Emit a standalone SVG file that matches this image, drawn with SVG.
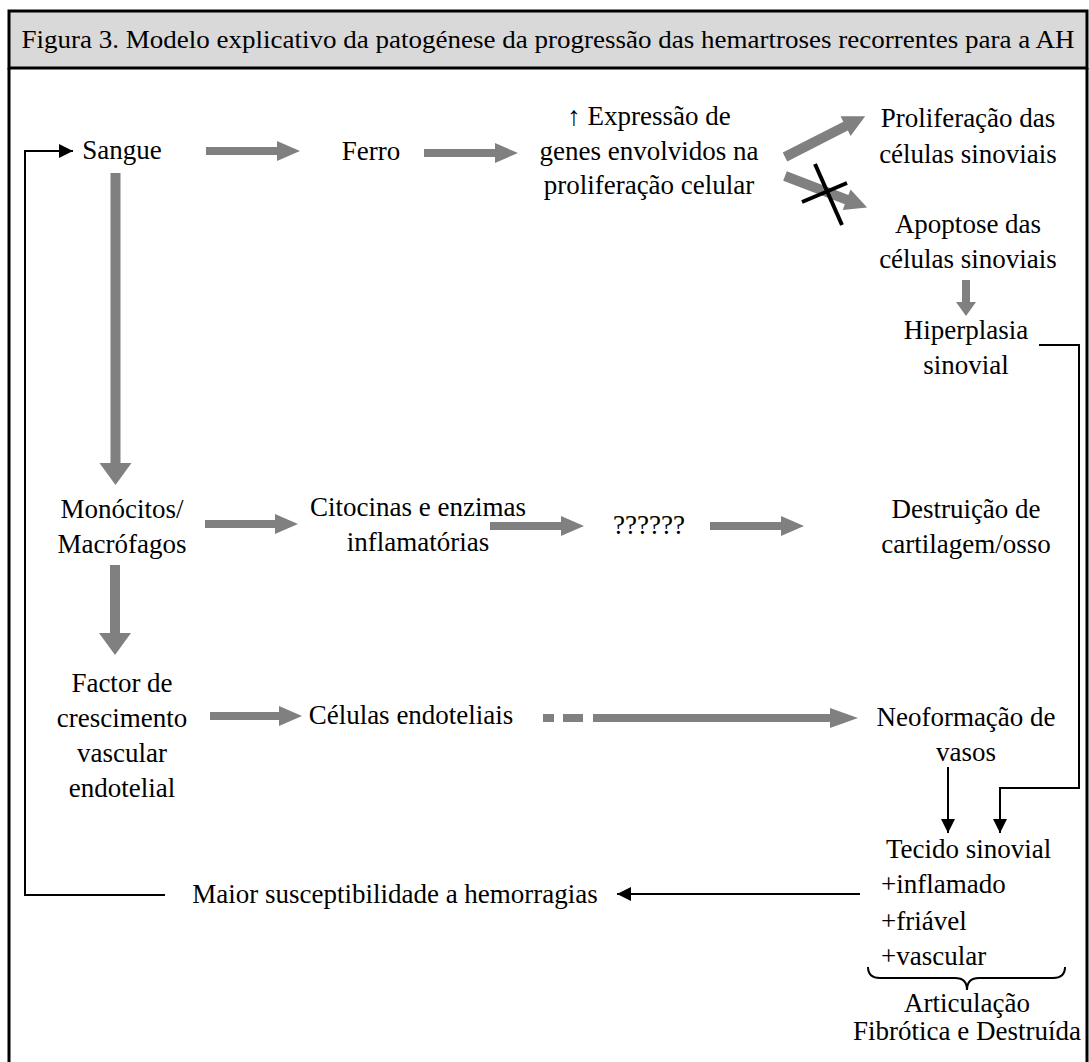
<svg xmlns="http://www.w3.org/2000/svg" width="1089" height="1062" viewBox="0 0 1089 1062">
<defs>
<style>
.t{font-family:'Liberation Serif','Times New Roman',serif;font-size:27px;fill:#000;}
.c{text-anchor:middle;}
.g{fill:#808080;stroke:none;}
.k{fill:none;stroke:#000;stroke-width:2;}
</style>
<marker id="ah" viewBox="0 0 10 10" markerWidth="15" markerHeight="14" markerUnits="userSpaceOnUse" refX="10" refY="5" orient="auto">
<path d="M0,0 L10,5 L0,10 Z" fill="#000"/>
</marker>
</defs>
<rect x="0" y="0" width="1089" height="1062" fill="#fff"/>
<g id="frame">
<rect x="9" y="11" width="1078" height="57" fill="#d9d9d9" stroke="#000" stroke-width="3"/>
<line x1="9" y1="68" x2="9" y2="1062" stroke="#000" stroke-width="3"/>
<line x1="1087" y1="68" x2="1087" y2="1062" stroke="#000" stroke-width="3"/>
<text x="548" y="48" class="t c" style="font-size:25px" textLength="1053" lengthAdjust="spacingAndGlyphs">Figura 3. Modelo explicativo da patogénese da progressão das hemartroses recorrentes para a AH</text>
</g>
<g id="connectors">
<polygon class="g" points="206,147 277,147 277,141 300,151 277,161 277,155 206,155"/>
<polygon class="g" points="424,149 495,149 495,143 518,153 495,163 495,157 424,157"/>
<polygon class="g" transform="translate(785,157) rotate(-27)" points="0,-5 68,-5 68,-11 90,0 68,11 68,5 0,5"/>
<polygon class="g" transform="translate(785,176) rotate(21)" points="0,-5 66,-5 66,-11 88,0 66,11 66,5 0,5"/>
<line x1="815" y1="164" x2="842" y2="225" stroke="#000" stroke-width="4"/>
<line x1="802" y1="202" x2="847" y2="183" stroke="#000" stroke-width="4"/>
<polygon class="g" points="962,280 970,280 970,302 976,302 966,316 956,302 962,302"/>
<polygon class="g" points="110.5,173 120.5,173 120.5,463 131.5,463 115.5,485 99.5,463 110.5,463"/>
<polygon class="g" points="110,565 120,565 120,633 131,633 115,655 99,633 110,633"/>
<polygon class="g" points="205,520 275,520 275,514 298,524 275,534 275,528 205,528"/>
<polygon class="g" points="490,522 561,522 561,516 584,526 561,536 561,530 490,530"/>
<polygon class="g" points="710,522 781,522 781,516 804,526 781,536 781,530 710,530"/>
<polygon class="g" points="210,712 279,712 279,706 302,716 279,726 279,720 210,720"/>
<rect class="g" x="543" y="714" width="11" height="8"/>
<rect class="g" x="563" y="714" width="20" height="8"/>
<polygon class="g" points="593,714 830,714 830,708 858,718 830,728 830,722 593,722"/>
<path class="k" d="M165,895 L25,895 L25,151 L73,151" marker-end="url(#ah)"/>
<path class="k" d="M1039,345 L1079,345 L1079,788 L1000,788 L1000,833" marker-end="url(#ah)"/>
<path class="k" d="M948,767 L948,833" marker-end="url(#ah)"/>
<path class="k" d="M860,894 L617,894" marker-end="url(#ah)"/>
<path class="k" d="M868,967 Q868,978 880,978 L955,978 Q967,978 967,990 Q967,978 979,978 L1053,978 Q1065,978 1065,967"/>
</g>
<g id="n-sangue"><text x="122" y="159" class="t c">Sangue</text></g>
<g id="n-ferro"><text x="371" y="160" class="t c">Ferro</text></g>
<g id="n-expressao"><text x="649" y="125" class="t c">↑ Expressão de</text><text x="649" y="160" class="t c">genes envolvidos na</text><text x="649" y="194" class="t c">proliferação celular</text></g>
<g id="n-proliferacao"><text x="968" y="127" class="t c">Proliferação das</text><text x="968" y="163" class="t c">células sinoviais</text></g>
<g id="n-apoptose"><text x="968" y="233" class="t c">Apoptose das</text><text x="968" y="268" class="t c">células sinoviais</text></g>
<g id="n-hiperplasia"><text x="966" y="339" class="t c">Hiperplasia</text><text x="966" y="374" class="t c">sinovial</text></g>
<g id="n-monocitos"><text x="122" y="518" class="t c">Monócitos/</text><text x="122" y="553" class="t c">Macrófagos</text></g>
<g id="n-citocinas"><text x="418" y="516" class="t c">Citocinas e enzimas</text><text x="418" y="551" class="t c">inflamatórias</text></g>
<g id="n-interrogacao"><text x="649" y="534" class="t c">??????</text></g>
<g id="n-destruicao"><text x="966" y="518" class="t c">Destruição de</text><text x="966" y="553" class="t c">cartilagem/osso</text></g>
<g id="n-factor"><text x="122" y="692" class="t c">Factor de</text><text x="122" y="727" class="t c">crescimento</text><text x="122" y="762" class="t c">vascular</text><text x="122" y="797" class="t c">endotelial</text></g>
<g id="n-celulas"><text x="411" y="724" class="t c">Células endoteliais</text></g>
<g id="n-neoformacao"><text x="966" y="726" class="t c">Neoformação de</text><text x="966" y="761" class="t c">vasos</text></g>
<g id="n-tecido"><text x="886" y="858" class="t">Tecido sinovial</text><text x="881" y="893" class="t">+inflamado</text><text x="881" y="930" class="t">+friável</text><text x="881" y="965" class="t">+vascular</text></g>
<g id="n-maior"><text x="395" y="903" class="t c">Maior susceptibilidade a hemorragias</text></g>
<g id="n-articulacao"><text x="967" y="1012" class="t c">Articulação</text><text x="967" y="1040" class="t c">Fibrótica e Destruída</text></g>
</svg>
